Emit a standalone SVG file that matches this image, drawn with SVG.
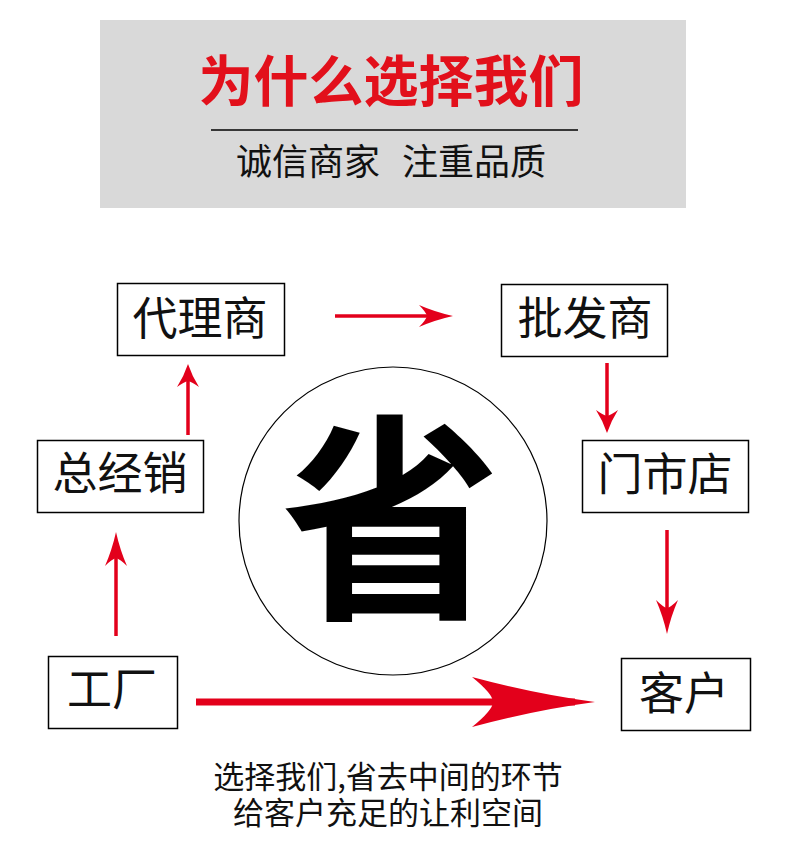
<svg xmlns="http://www.w3.org/2000/svg" width="790" height="841" viewBox="0 0 790 841">
<style>
.cjk{font-family:"Noto Sans CJK SC","Noto Sans",sans-serif;}
.box{fill:#fff;stroke:#000;stroke-width:1.5;}
.lbl{font-size:45px;fill:#111;text-anchor:middle;}
.con{stroke:#e3001b;fill:none;}
.thin{stroke-width:3.5;}
.big{stroke-width:7;}
</style>
<defs>
<marker id="ahL" markerUnits="userSpaceOnUse" viewBox="-36 -13 38 26" markerWidth="38" markerHeight="26" refX="-12" refY="0" orient="auto">
<path d="M0,0 Q-18,-4 -34,-11 Q-27,-4 -26,0 Q-27,4 -34,11 Q-18,4 0,0Z" fill="#e3001b"/>
</marker>
<marker id="ahS" markerUnits="userSpaceOnUse" viewBox="-25 -13 27 26" markerWidth="27" markerHeight="26" refX="-8" refY="0" orient="auto">
<path d="M0,0 Q-12,-4 -23,-11 Q-18,-4 -17,0 Q-18,4 -23,11 Q-12,4 0,0Z" fill="#e3001b"/>
</marker>
<marker id="ahB" markerUnits="userSpaceOnUse" viewBox="-125 -27 127 54" markerWidth="127" markerHeight="54" refX="-20" refY="0" orient="auto">
<path d="M0,0 Q-60,-8 -123,-25 Q-102,-8 -102,0 Q-102,8 -123,25 Q-60,8 0,0Z" fill="#e3001b"/>
</marker>
</defs>
<rect width="790" height="841" fill="#fff"/>
<g id="header">
<rect x="100" y="20" width="586" height="188" fill="#d9d9d9"/>
<text class="cjk" x="391" y="101" font-size="55" font-weight="bold" fill="#e2101b" text-anchor="middle">为什么选择我们</text>
<line x1="211" y1="130" x2="578" y2="130" stroke="#000" stroke-width="1.3"/>
<text class="cjk" x="236" y="175" font-size="36" fill="#111">诚信商家</text>
<text class="cjk" x="402" y="175" font-size="36" fill="#111">注重品质</text>
</g>
<g id="center">
<circle cx="393" cy="521" r="154" fill="#fff" stroke="#000" stroke-width="1.2"/>
<text class="cjk" x="391" y="602" font-size="220" font-weight="bold" fill="#000" text-anchor="middle">省</text>
</g>
<g id="connectors">
<line class="con thin" x1="335" y1="316" x2="441" y2="316" marker-end="url(#ahL)"/>
<line class="con thin" x1="607" y1="363" x2="607" y2="425" marker-end="url(#ahS)"/>
<line class="con thin" x1="667" y1="530" x2="667" y2="622" marker-end="url(#ahL)"/>
<line class="con thin" x1="188" y1="435" x2="188" y2="372" marker-end="url(#ahS)"/>
<line class="con thin" x1="116" y1="636" x2="116" y2="544" marker-end="url(#ahL)"/>
<line class="con big" x1="196" y1="702" x2="575" y2="702" marker-end="url(#ahB)"/>
</g>
<g id="n-dailishang"><rect class="box" x="117.5" y="283.5" width="167" height="72"/><text class="cjk lbl" x="200" y="335">代理商</text></g>
<g id="n-pifashang"><rect class="box" x="501.5" y="284.5" width="166" height="72"/><text class="cjk lbl" x="585" y="335">批发商</text></g>
<g id="n-zongjingxiao"><rect class="box" x="37.5" y="440.5" width="166" height="72"/><text class="cjk lbl" x="120" y="490">总经销</text></g>
<g id="n-menshidian"><rect class="box" x="582.5" y="440.5" width="166" height="72"/><text class="cjk lbl" x="665" y="491">门市店</text></g>
<g id="n-gongchang"><rect class="box" x="48.5" y="656.5" width="129" height="72"/><text class="cjk lbl" x="112" y="706">工厂</text></g>
<g id="n-kehu"><rect class="box" x="621.5" y="658.5" width="129" height="72"/><text class="cjk lbl" x="684" y="710">客户</text></g>
<g id="footer">
<text class="cjk" font-size="31" fill="#111" text-anchor="middle"><tspan x="388" y="788">选择我们,省去中间的环节</tspan><tspan x="388" y="824">给客户充足的让利空间</tspan></text>
</g>
</svg>
